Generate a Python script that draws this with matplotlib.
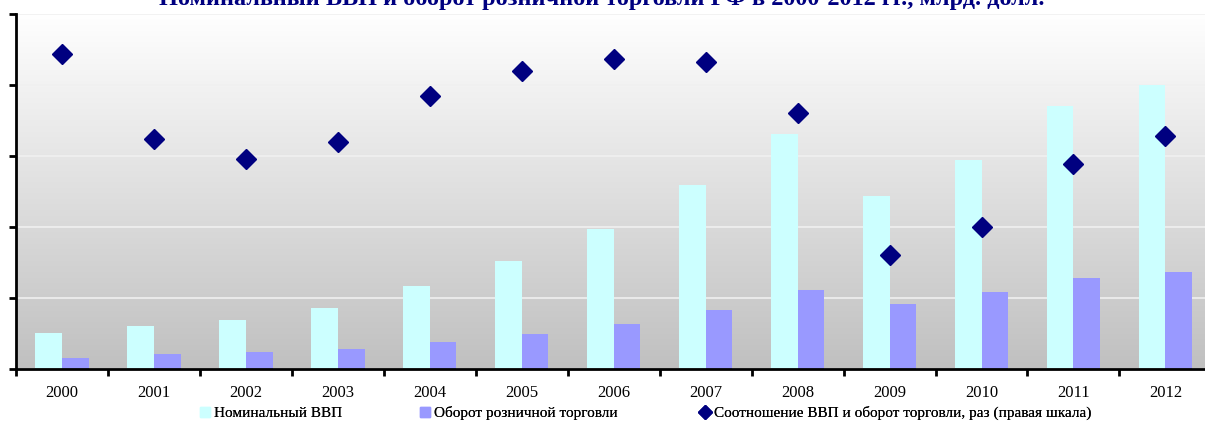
import matplotlib.pyplot as plt
import numpy as np
from matplotlib.lines import Line2D

years = ['2000', '2001', '2002', '2003', '2004', '2005', '2006',
         '2007', '2008', '2009', '2010', '2011', '2012']
gdp = [249, 298, 341, 425, 580, 757, 982, 1293, 1657, 1215, 1469, 1850, 1998]
retail = [73, 101, 115, 136, 185, 242, 312, 411, 554, 453, 538, 637, 679]
ratio = [3.36, 3.06, 2.99, 3.05, 3.21, 3.30, 3.34, 3.33, 3.15, 2.65, 2.75, 2.97, 3.07]

title = 'Номинальный ВВП и оборот розничной торговли РФ в 2000-2012 гг., млрд. долл.'
labels = ['Номинальный ВВП', 'Оборот розничной торговли',
          'Соотношение ВВП и оборот торговли, раз (правая шкала)']

plt.rcParams['font.family'] = ['Liberation Serif', 'DejaVu Serif']

W, H = 1205, 424
fig = plt.figure(figsize=(W / 100, H / 100), dpi=100)
ax = fig.add_axes([16 / W, 1 - 368.5 / H, 1195.4 / W, 354.5 / H])

x = np.arange(len(years))
n = len(years)

# gradient background
grad = np.linspace(1.0, 0.0, 256).reshape(-1, 1)
ax.imshow(grad, extent=[-0.5, n - 0.5, 0, 2500], aspect='auto', origin='upper',
          cmap=plt.matplotlib.colors.LinearSegmentedColormap.from_list(
              'g', ['#c0c0c0', '#ffffff']), zorder=0)

w = 0.29
ax.bar(x - w / 2, gdp, w, color='#ccffff', zorder=2)
ax.bar(x + w / 2, retail, w, color='#9999ff', zorder=2)

ax.set_xlim(-0.5, n - 0.5)
ax.set_ylim(0, 2500)
ax.set_yticks(np.arange(0, 2501, 500))
ax.set_yticklabels([])
for yv in range(500, 2501, 500):
    ax.axhline(yv, color='#f0f0f0', lw=1.2, zorder=1)

ax.set_xticks(np.arange(-0.5, n, 1))
ax.set_xticklabels([])
ax.set_xticks(x, minor=True)
ax.set_xticklabels(years, minor=True, fontsize=12)
ax.tick_params(axis='x', which='minor', length=0, pad=12)
ax.tick_params(axis='x', which='major', length=5, width=2, direction='out')
ax.tick_params(axis='y', length=5, width=2, direction='out')

for s in ['top', 'right']:
    ax.spines[s].set_visible(False)
ax.spines['left'].set_linewidth(2)
ax.spines['bottom'].set_linewidth(2)

ax2 = ax.twinx()
ax2.plot(x, ratio, linestyle='none', marker='D', markersize=10.5,
         color='#000080', zorder=3)
ax2.set_ylim(2.25, 3.5)
ax2.set_yticks([])
for s in ax2.spines.values():
    s.set_visible(False)

fig.text(602 / W, 1 - 5.5 / H, title, ha='center', va='baseline', fontsize=17.5,
         fontweight='bold', color='#000080')

handles = [Line2D([], [], ls='none', marker='s', markersize=7.5, color='#ccffff'),
           Line2D([], [], ls='none', marker='s', markersize=7.5, color='#9999ff'),
           Line2D([], [], ls='none', marker='D', markersize=7, color='#000080')]
# one legend per entry, placed like the original
for h, lab, lx in zip(handles, labels, [200, 420, 700]):
    leg = fig.legend([h], [lab], loc='center left',
                     bbox_to_anchor=(lx / W, 1 - 413 / H), frameon=False,
                     fontsize=11, handlelength=0.6, handletextpad=0.3,
                     borderpad=0, borderaxespad=0)
    fig.add_artist(leg)

fig.savefig('out.png', dpi=100)
